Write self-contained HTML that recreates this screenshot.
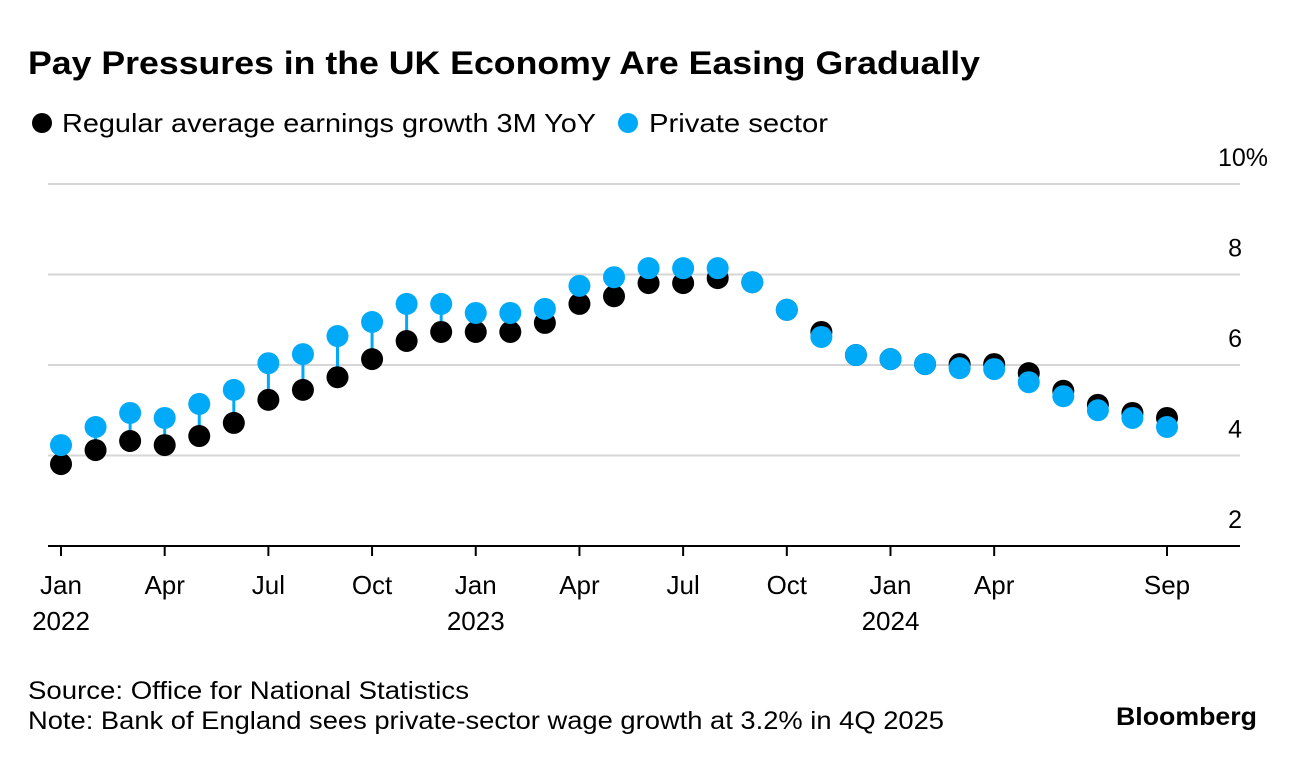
<!DOCTYPE html>
<html><head><meta charset="utf-8"><style>
body{margin:0;background:#fff;font-family:"Liberation Sans",sans-serif;}
svg text{font-family:"Liberation Sans",sans-serif;}
</style></head><body>
<svg width="1296" height="760">
<text x="28" y="74" font-size="32" font-weight="bold" fill="#000" textLength="952" lengthAdjust="spacingAndGlyphs">Pay Pressures in the UK Economy Are Easing Gradually</text>
<g>
<circle cx="42" cy="123" r="10" fill="#000"/>
<text x="62" y="132" font-size="26" fill="#000" textLength="534" lengthAdjust="spacingAndGlyphs">Regular average earnings growth 3M YoY</text>
<circle cx="628" cy="123" r="10" fill="#00AAF9"/>
<text x="649" y="132" font-size="26" fill="#000" textLength="179" lengthAdjust="spacingAndGlyphs">Private sector</text>
</g>
<g id="grid"></g><g id="marks"></g><g id="xaxis"></g>
<text x="28" y="699" font-size="25" fill="#000" textLength="441" lengthAdjust="spacingAndGlyphs">Source: Office for National Statistics</text>
<text x="28" y="729" font-size="25" fill="#000" textLength="916" lengthAdjust="spacingAndGlyphs">Note: Bank of England sees private-sector wage growth at 3.2% in 4Q 2025</text>
<text x="1257" y="725" font-size="25" font-weight="bold" text-anchor="end" fill="#000" textLength="141" lengthAdjust="spacingAndGlyphs">Bloomberg</text>
</svg>
<script>
const regular=[3.81,4.12,4.32,4.23,4.43,4.72,5.23,5.45,5.73,6.13,6.53,6.73,6.73,6.73,6.93,7.35,7.52,7.81,7.81,7.92,7.83,7.22,6.73,6.22,6.13,6.02,6.02,6.02,5.82,5.43,5.12,4.94,4.83];
const priv=[4.23,4.63,4.94,4.83,5.14,5.45,6.04,6.24,6.64,6.95,7.35,7.35,7.15,7.15,7.24,7.75,7.94,8.14,8.14,8.14,7.83,7.22,6.62,6.22,6.13,6.02,5.93,5.91,5.62,5.31,5.0,4.83,4.63];
const yTicks=[2,4,6,8,10];
const xTicks=[[0,"Jan","2022"],[3,"Apr",""],[6,"Jul",""],[9,"Oct",""],[12,"Jan","2023"],[15,"Apr",""],[18,"Jul",""],[21,"Oct",""],[24,"Jan","2024"],[27,"Apr",""],[32,"Sep",""]];
const NS="http://www.w3.org/2000/svg";
const xs=i=>61+i*(1167-61)/32;
const ys=v=>546-(v-2)*45.25;
function mk(tag,attrs,parent,txt){const e=document.createElementNS(NS,tag);for(const k in attrs)e.setAttribute(k,attrs[k]);if(txt!==undefined)e.textContent=txt;document.getElementById(parent).appendChild(e);return e;}
yTicks.forEach(v=>{
 if(v>2){const l=mk('line',{x1:48,x2:1240,y1:ys(v),y2:ys(v),stroke:'#d6d6d6','stroke-width':2},'grid');
 
 }
 const t=mk('text',{x:v===10?1268:1242,y:ys(v)-18,'font-size':25,'text-anchor':'end',fill:'#000'},'grid',v===10?'10%':String(v));
 
 
});
const ax=mk('line',{x1:48,x2:1240,y1:546,y2:546,stroke:'#000','stroke-width':2},'xaxis');


xTicks.forEach(([i,m,y])=>{
 const tk=mk('line',{x1:xs(i),x2:xs(i),y1:546,y2:556,stroke:'#000','stroke-width':2},'xaxis');
 
 
 const t=mk('text',{x:xs(i),y:594,'font-size':26,'text-anchor':'middle',fill:'#000'},'xaxis',m);
 
 
 if(y){const t2=mk('text',{x:xs(i),y:630,'font-size':26,'text-anchor':'middle',fill:'#000'},'xaxis',y);
 
 }
});
regular.forEach((v,i)=>{
 const s=mk('line',{x1:xs(i),x2:xs(i),y1:ys(v),y2:ys(priv[i]),stroke:'#00AAF9','stroke-width':3},'marks');
 
 
});
regular.forEach((v,i)=>{
 const c=mk('circle',{cx:xs(i),cy:ys(v),r:11,fill:'#000'},'marks');
 
 
});
priv.forEach((v,i)=>{
 const c=mk('circle',{cx:xs(i),cy:ys(v),r:11,fill:'#00AAF9'},'marks');
 
 
});
</script>
</body></html>
